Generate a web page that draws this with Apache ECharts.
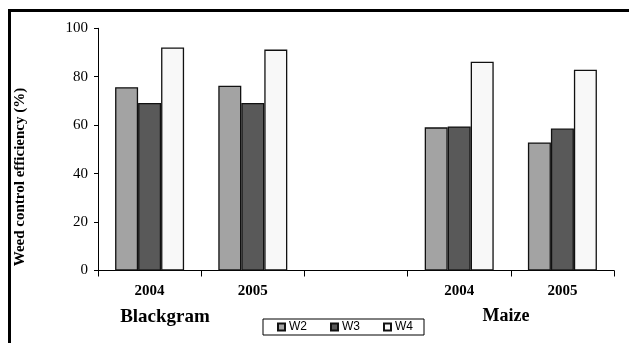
<!DOCTYPE html>
<html>
<head>
<meta charset="utf-8">
<script src="https://cdn.jsdelivr.net/npm/echarts@6/dist/echarts.min.js"></script>
<style>
html,body{margin:0;padding:0;background:#fff;}
#main{width:629px;height:343px;}
</style>
</head>
<body>
<div id="main"></div>
<script>
// Data
const categories = ['B2004', 'B2005', 'gap', 'M2004', 'M2005'];
const categoryLabels = ['2004', '2005', '', '2004', '2005'];
const seriesNames = ['W2', 'W3', 'W4'];
const w2 = [75.7, 76.3, null, 59.1, 52.9];
const w3 = [69.2, 69.2, null, 59.5, 58.6];
const w4 = [92.1, 91.2, null, 86.2, 82.9];
const yTicks = [0, 20, 40, 60, 80, 100];
const groupLabels = ['Blackgram', 'Maize'];
const yTitle = 'Weed control efficiency (%)';

const colors = ['#a3a3a3', '#595959', '#f8f8f8'];
const values = [w2, w3, w4];

const chart = echarts.init(document.getElementById('main'), null, {renderer: 'canvas'});

const serif = 'Liberation Serif';

const option = {
  animation: false,
  backgroundColor: '#fff',
  grid: {left: 98, right: 15, top: 28.3, bottom: 72.5, containLabel: false},
  xAxis: {
    type: 'category',
    data: categories,
    boundaryGap: true,
    axisLine: {lineStyle: {color: '#000', width: 1}},
    axisTick: {show: true, length: 6, lineStyle: {color: '#000'}},
    axisLabel: {
      margin: 13,
      color: '#000',
      fontFamily: serif,
      fontWeight: 'bold',
      fontSize: 15,
      formatter: function (v, i) { return categoryLabels[i]; }
    },
    splitLine: {show: false}
  },
  yAxis: {
    type: 'value',
    min: yTicks[0],
    max: yTicks[yTicks.length - 1],
    interval: yTicks[1] - yTicks[0],
    axisLine: {show: true, lineStyle: {color: '#000', width: 1}},
    axisTick: {show: true, length: 4, lineStyle: {color: '#000'}},
    axisLabel: {margin: 10, color: '#000', fontFamily: serif, fontSize: 15},
    splitLine: {show: false}
  },
  legend: {
    data: seriesNames,
    left: 263,
    top: 319,
    orient: 'horizontal',
    itemWidth: 7,
    itemHeight: 7,
    itemGap: 23,
    icon: 'rect',
    padding: [2, 11, 2, 14],
    borderColor: '#000',
    borderWidth: 1,
    backgroundColor: '#fff',
    textStyle: {fontFamily: 'Liberation Sans', fontSize: 12, color: '#000', padding: [0, 0, 0, -1]}
  },
  series: seriesNames.map((n, k) => ({
    name: n,
    type: 'bar',
    data: values[k],
    barWidth: 23,
    barGap: '0%',
    itemStyle: {color: colors[k], borderColor: '#111', borderWidth: 1.3}
  })),
  graphic: [
    {
      type: 'rect',
      shape: {x: 9.5, y: 10.5, width: 700, height: 400},
      style: {fill: 'none', stroke: '#000', lineWidth: 3},
      silent: true, z: 100
    },
    {
      type: 'text',
      x: 20, y: 177,
      rotation: Math.PI / 2,
      style: {
        text: yTitle,
        fontFamily: serif, fontWeight: 'bold', fontSize: 15,
        fill: '#000', align: 'center', verticalAlign: 'middle'
      }
    },
    {
      type: 'text',
      x: 165, y: 317,
      style: {
        text: groupLabels[0],
        fontFamily: serif, fontWeight: 'bold', fontSize: 19,
        fill: '#000', align: 'center', verticalAlign: 'middle'
      }
    },
    {
      type: 'text',
      x: 506, y: 316,
      style: {
        text: groupLabels[1],
        fontFamily: serif, fontWeight: 'bold', fontSize: 18,
        fill: '#000', align: 'center', verticalAlign: 'middle'
      }
    }
  ]
};
chart.setOption(option);
</script>
</body>
</html>
